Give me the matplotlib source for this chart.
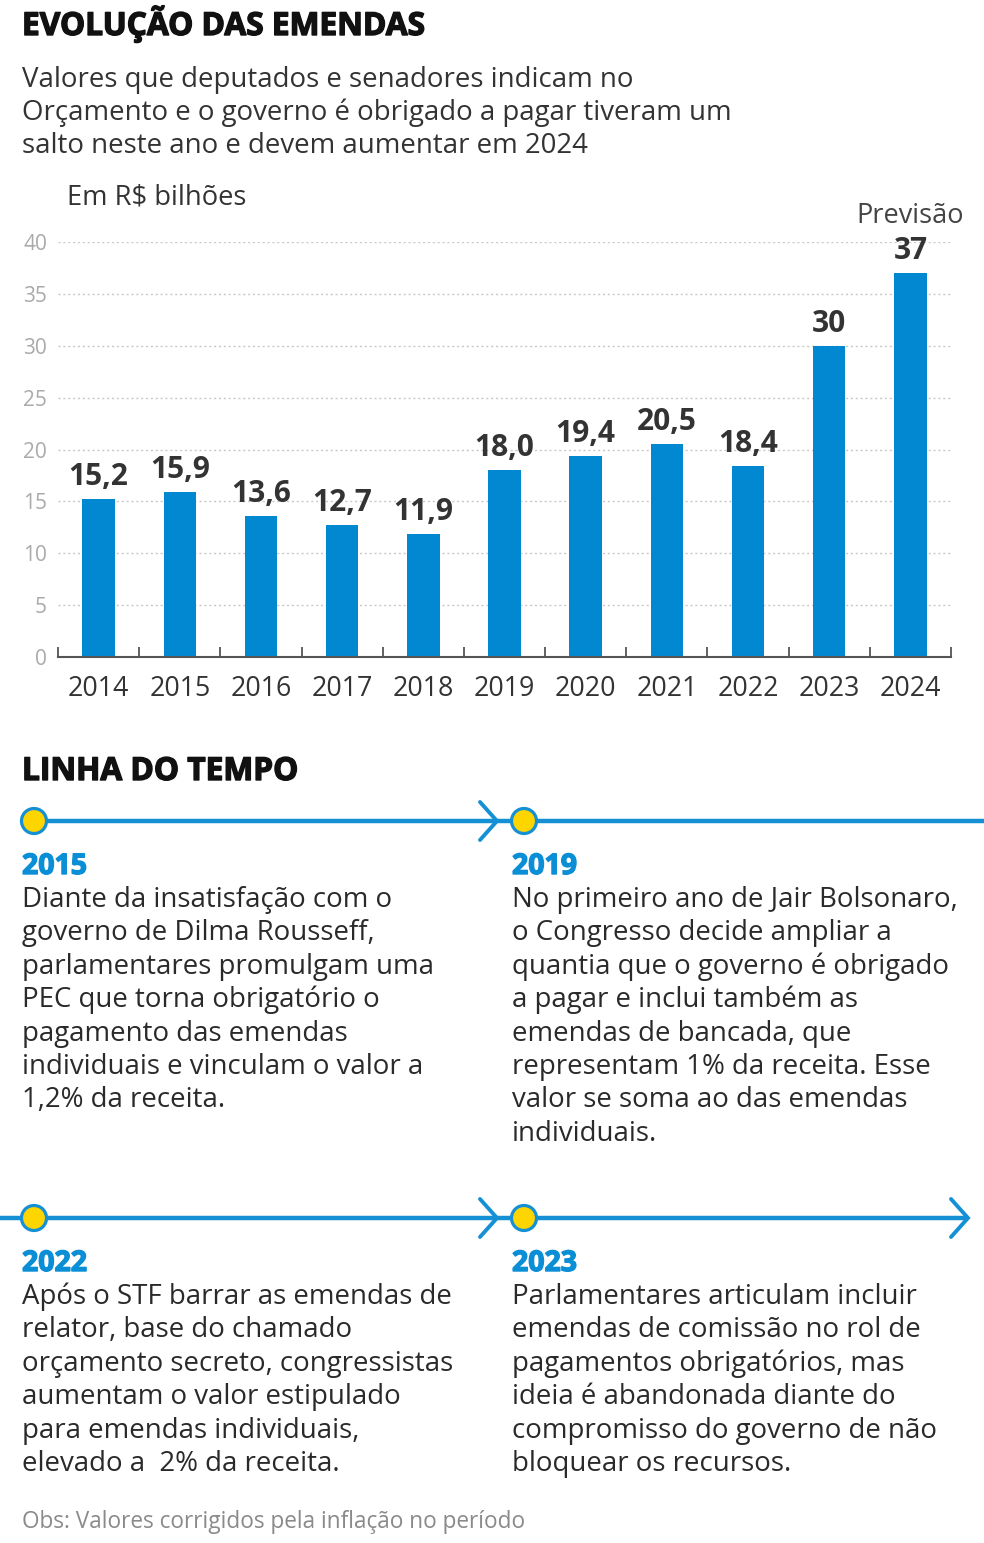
import numpy as np
import matplotlib.pyplot as plt
import matplotlib.patheffects as pe
from matplotlib.patches import Circle

plt.rcParams['font.family'] = ['Open Sans', 'DejaVu Sans']

# dados do grafico
anos = ['2014', '2015', '2016', '2017', '2018', '2019', '2020', '2021', '2022', '2023', '2024']
valores = [15.2, 15.9, 13.6, 12.7, 11.9, 18.0, 19.4, 20.5, 18.4, 30, 37]
rotulos = ['15,2', '15,9', '13,6', '12,7', '11,9', '18,0', '19,4', '20,5', '18,4', '30', '37']
yticks = [0, 5, 10, 15, 20, 25, 30, 35, 40]

titulo = 'EVOLUÇÃO DAS EMENDAS'
subtitulo = ['Valores que deputados e senadores indicam no',
             'Orçamento e o governo é obrigado a pagar tiveram um',
             'salto neste ano e devem aumentar em 2024']

# linha do tempo
anos_tl = ['2015', '2019', '2022', '2023']
textos_tl = [
    ['Diante da insatisfação com o', 'governo de Dilma Rousseff,',
     'parlamentares promulgam uma', 'PEC que torna obrigatório o',
     'pagamento das emendas', 'individuais e vinculam o valor a',
     '1,2% da receita.'],
    ['No primeiro ano de Jair Bolsonaro,', 'o Congresso decide ampliar a',
     'quantia que o governo é obrigado', 'a pagar e inclui também as',
     'emendas de bancada, que', 'representam 1% da receita. Esse',
     'valor se soma ao das emendas', 'individuais.'],
    ['Após o STF barrar as emendas de', 'relator, base do chamado',
     'orçamento secreto, congressistas', 'aumentam o valor estipulado',
     'para emendas individuais,', 'elevado a  2% da receita.'],
    ['Parlamentares articulam incluir', 'emendas de comissão no rol de',
     'pagamentos obrigatórios, mas', 'ideia é abandonada diante do',
     'compromisso do governo de não', 'bloquear os recursos.'],
]

azul = '#0288d1'
azul_linha = '#1590d5'
amarelo = '#ffd500'
grosso = [pe.withStroke(linewidth=1.0, foreground='#111')]
grosso_azul = [pe.withStroke(linewidth=1.0, foreground='#0a8ed6')]

W, H = 984, 1543
fig = plt.figure(figsize=(W / 100, H / 100), dpi=100)

# eixo de sobreposicao em pixels para textos e linha do tempo
ov = fig.add_axes([0, 0, 1, 1])
ov.set_xlim(0, W)
ov.set_ylim(H, 0)
ov.axis('off')

ov.text(22, 35, titulo, fontsize=22.8, fontweight='bold', color='#111', va='baseline',
        path_effects=grosso)
for i, s in enumerate(subtitulo):
    ov.text(22, 87 + 33 * i, s, fontsize=19.9, color='#333', va='baseline')
ov.text(67, 205, 'Em R$ bilhões', fontsize=19.7, color='#333', va='baseline')

# grafico de barras
ax = fig.add_axes([58 / W, 1 - 657 / H, (951 - 58) / W, (657 - 242) / H])
x = np.arange(len(anos))
ax.bar(x, valores, width=0.4, color=azul, zorder=3)
ax.set_xlim(-0.5, len(anos) - 0.5)
ax.set_ylim(0, 40)
for s in ['top', 'right', 'left']:
    ax.spines[s].set_visible(False)
ax.spines['bottom'].set_color('#555')
ax.spines['bottom'].set_linewidth(1.5)
ax.spines['bottom'].set_zorder(4)
ax.set_yticks(yticks)
ax.set_yticklabels([str(v) for v in yticks])
ax.tick_params(axis='y', length=0, pad=8, labelsize=15, labelcolor='#aaa')
ax.set_xticks(x)
ax.set_xticklabels(anos)
ax.tick_params(axis='x', which='major', length=0, pad=13, labelsize=19.3, labelcolor='#333')
ax.set_xticks(np.arange(-0.5, len(anos)), minor=True)
ax.tick_params(axis='x', which='minor', direction='in', length=7, width=1.3, color='#555')
ax.yaxis.grid(True, linestyle=(0, (1.5, 2)), color='#c8c8c8', linewidth=1, zorder=0)
ax.set_axisbelow(True)

for xi, v, r in zip(x, valores, rotulos):
    ax.annotate(r, (xi, v), xytext=(0, 10), textcoords='offset points',
                ha='center', va='baseline', fontsize=21.5, fontweight='bold',
                color='#333', annotation_clip=False)
ax.annotate('Previsão', (x[-1], valores[-1]), xytext=(0, 36), textcoords='offset points',
            ha='center', va='baseline', fontsize=19.5, color='#444', annotation_clip=False)

# linha do tempo
ov.text(22, 780, 'LINHA DO TEMPO', fontsize=22.8, fontweight='bold', color='#111',
        va='baseline', path_effects=grosso)


def chevron(xt, y):
    ov.plot([xt - 17, xt, xt - 17], [y - 19, y, y + 19], color=azul_linha, lw=2.8,
            solid_capstyle='round', solid_joinstyle='miter')


linhas_y = [821, 1218]
ov.plot([22, W], [821, 821], color=azul_linha, lw=3.2, solid_capstyle='butt')
ov.plot([0, 966], [1218, 1218], color=azul_linha, lw=3.2, solid_capstyle='butt')
chevron(497, 821)
chevron(497, 1218)
chevron(968, 1218)

cols = [22, 512]
for k, (ano, linhas) in enumerate(zip(anos_tl, textos_tl)):
    y0 = linhas_y[k // 2]
    x0 = cols[k % 2]
    ov.add_patch(Circle((x0 + 12, y0), 12.5, facecolor=amarelo, edgecolor=azul_linha,
                        lw=2.3, zorder=5))
    ov.text(x0, y0 + 53, ano, fontsize=20.5, fontweight='bold', color='#0a8ed6',
            va='baseline', path_effects=grosso_azul)
    for i, s in enumerate(linhas):
        ov.text(x0, y0 + 86 + 33.4 * i, s, fontsize=19.9, color='#2a2a2a', va='baseline')

ov.text(22, 1528, 'Obs: Valores corrigidos pela inflação no período', fontsize=16.3,
        color='#8a8a8a', va='baseline')

fig.savefig('out.png', dpi=100, facecolor='white')
